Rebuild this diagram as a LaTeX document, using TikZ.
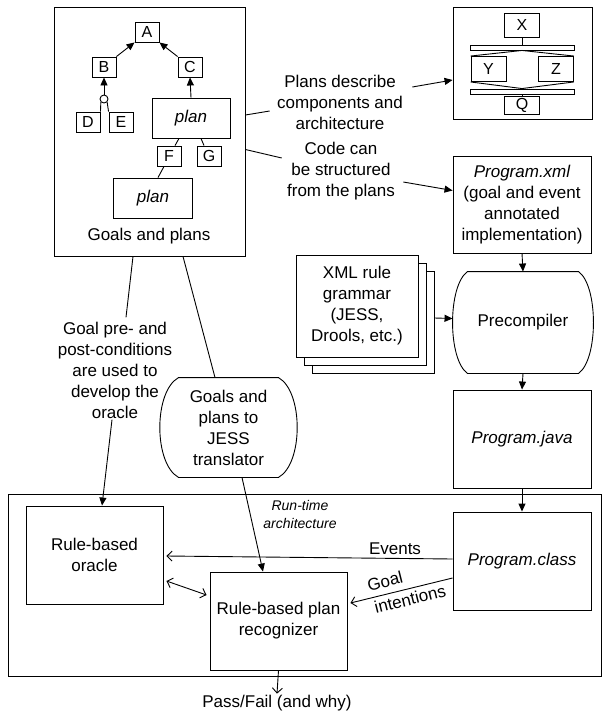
\documentclass[tikz,border=0pt]{standalone}
\usepackage{fontspec}
\setmainfont{Liberation Sans}
\usetikzlibrary{arrows.meta,calc}
\begin{document}
\begin{tikzpicture}[x=1pt,y=-1pt,
  font=\fontsize{17}{21}\selectfont,
  line width=0.9pt,
  every node/.style={inner sep=1pt},
  box/.style={draw,inner sep=0pt,align=center},
  sbox/.style={draw,inner sep=0pt,minimum width=24pt,minimum height=20pt,font=\fontsize{16}{18}\selectfont},
  ybox/.style={draw,inner sep=0pt,minimum width=35pt,minimum height=25pt,font=\fontsize{16}{18}\selectfont},
  bar/.style={draw,inner sep=0pt,minimum width=104pt,minimum height=5pt},
  term/.style={inner sep=0pt,align=center},
  lab/.style={align=center,inner sep=1pt},
  tri/.style={-{Triangle[length=8pt,width=7pt]}},
  opn/.style={-{Straight Barb[length=5pt,width=10pt]}},
  opnboth/.style={{Straight Barb[length=5pt,width=10pt]}-{Straight Barb[length=5pt,width=10pt]}}]
\useasboundingbox (0,0) rectangle (602,715);

% ---------- goals and plans ----------
\node[box,minimum width=191pt,minimum height=249pt] (goals) at (149.5,131.5) {};
\node (goalslab) at (149,236) {Goals and plans};
\node[sbox] (A) at (147,32) {A};
\node[sbox] (B) at (104,67) {B};
\node[sbox] (C) at (190,67) {C};
\node[sbox] (D) at (88,122) {D};
\node[sbox] (E) at (121,122) {E};
\node[sbox] (F) at (169,156) {F};
\node[sbox] (G) at (209,156) {G};
\node[draw,circle,inner sep=0pt,minimum size=8pt] (circ) at (104,99) {};
\node[box,minimum width=78pt,minimum height=40pt] (plan1) at (191,118) {\itshape plan};
\node[box,minimum width=79pt,minimum height=40pt] (plan2) at (153,198) {\itshape plan};
\draw[tri] (B.north east) -- (A.south west);
\draw[tri] (C.north west) -- (A.south east);
\draw[tri] (circ.north) -- (B.south);
\draw (D.north east) -- (circ.south west);
\draw (E.north west) -- (circ.south east);
\draw[tri] (plan1.north) -- (C.south);
\draw ($(F.north)+(6,0)$) -- ($(plan1.south)+(-12,0)$);
\draw ($(G.north)+(-5,0)$) -- ($(plan1.south)+(10,0)$);
\draw ($(F.south)+(-5,0)$) -- ($(plan2.north)+(5,0)$);

% ---------- XYZ architecture ----------
\node[box,minimum width=139pt,minimum height=112pt] (arch) at (522.5,63) {};
\node[ybox,minimum height=24pt] (X) at (522,25) {X};
\node[bar] (bar1) at (522,47.5) {};
\node[ybox] (Y) at (488.5,69) {Y};
\node[ybox] (Z) at (556,69) {Z};
\node[bar] (bar2) at (522,91.5) {};
\node[ybox,minimum height=18pt] (Q) at (522,105.5) {Q};
\draw (X.south) -- (bar1.north);
\draw (Y.north west) -- (bar1.south) -- (Z.north east);
\draw (Y.south west) -- (bar2.north) -- (Z.south east);
\draw (bar2.south) -- (Q.north);

% ---------- labels between ----------
\node[lab] (lab1) at (340,102) {Plans describe\\components and\\architecture};
\node[lab] (lab2) at (341,171) {Code can\\be structured\\from the plans};
\draw ($(goals.east)+(0,-16.5)$) -- ($(lab1.west)+(-6,9)$);
\draw[tri] ($(lab1.east)+(8,-15)$) -- ($(arch.west)+(0,17)$);
\draw ($(goals.east)+(0,18)$) -- ($(lab2.west)+(-4,-13)$);

% ---------- right column ----------
\node[box,minimum width=138pt,minimum height=97pt] (xml) at (522,204.5) {\itshape Program.xml\\(goal and event\\annotated\\implementation)};
\draw[tri] ($(lab2.east)+(7,11)$) -- ($(xml.west)+(0,-14)$);
\node[term,minimum width=140pt,minimum height=101pt] (pre) at (523,322.5) {Precompiler};
\draw ($(pre.north west)+(15,0)$) -- ($(pre.north east)+(-15,0)$)
  .. controls ($(pre.north east)+(5,14)$) and ($(pre.south east)+(5,-14)$) .. ($(pre.south east)+(-15,0)$)
  -- ($(pre.south west)+(15,0)$)
  .. controls ($(pre.south west)+(-5,-14)$) and ($(pre.north west)+(-5,14)$) .. cycle;
\node[box,minimum width=122pt,minimum height=102pt,fill=white] (doc3) at (373,322) {};
\node[box,minimum width=122pt,minimum height=102pt,fill=white] (doc2) at (365,314) {};
\node[box,minimum width=122pt,minimum height=102pt,fill=white] (doc1) at (357,306) {XML rule\\grammar\\(JESS,\\Drools, etc.)};
\draw[tri] ($(doc3.east)+(0,-4)$) -- ($(pre.west)+(0,-4)$);
\node[box,minimum width=138pt,minimum height=98pt] (java) at (522,439) {\itshape Program.java};
\draw[tri] (xml.south) -- (pre.north);
\draw[tri] (pre.south) -- (java.north);

% ---------- run-time architecture ----------
\node[box,minimum width=593pt,minimum height=182pt] (rt) at (304.5,585) {};
\node[lab,font=\fontsize{14}{18}\selectfont\itshape] (rtlab) at (300,514) {Run-time\\architecture};
\node[box,minimum width=138pt,minimum height=98pt] (cls) at (522,561) {\itshape Program.class};
\draw[tri] (java.south) -- (cls.north);
\node[box,minimum width=137pt,minimum height=98pt] (oracle) at (94.5,555) {Rule-based\\oracle};
\node[box,minimum width=137pt,minimum height=98pt] (rec) at (278.5,621) {Rule-based plan\\recognizer};
\node[term,minimum width=137pt,minimum height=99pt] (trans) at (228.5,427.5) {Goals and\\plans to\\JESS\\translator};
\draw ($(trans.north west)+(19,0)$) -- ($(trans.north east)+(-19,0)$)
  .. controls ($(trans.north east)+(6,14)$) and ($(trans.south east)+(6,-14)$) .. ($(trans.south east)+(-19,0)$)
  -- ($(trans.south west)+(19,0)$)
  .. controls ($(trans.south west)+(-6,-14)$) and ($(trans.north west)+(-6,14)$) .. cycle;

% ---------- connectors ----------
\node[lab] (goallab) at (115,370) {Goal pre- and\\post-conditions\\are used to\\develop the\\oracle};
\draw ($(goals.south)+(-16.5,0)$) -- ($(goallab.north)+(11,-3)$);
\draw[tri] ($(goallab.south)+(-3,0)$) -- ($(oracle.north)+(7.5,0)$);
\draw ($(goals.south)+(33.5,0)$) -- ($(trans.north)+(-13.5,0)$);
\draw[tri] ($(trans.south)+(13.5,0)$) -- ($(rec.north)+(-15.5,0)$);

\draw[opn] ($(cls.west)+(0,-2)$) -- ($(oracle.east)+(3,1)$);
\node (events) at (395,549) {Events};
\draw[opnboth] ($(oracle.east)+(3,26)$) -- ($(rec.west)+(-3,-26)$);
\draw[opn] ($(cls.west)+(0,17)$) -- ($(rec.east)+(3,-18)$);
\node[rotate=14,inner sep=0pt] (goalw) at (385,581) {Goal};
\node[rotate=14,inner sep=0pt] (intw) at (410,599) {intentions};

\node (pass) at (277,703) {Pass/Fail (and why)};
\draw[opn] (rec.south) -- (pass.north);
\end{tikzpicture}
\end{document}
